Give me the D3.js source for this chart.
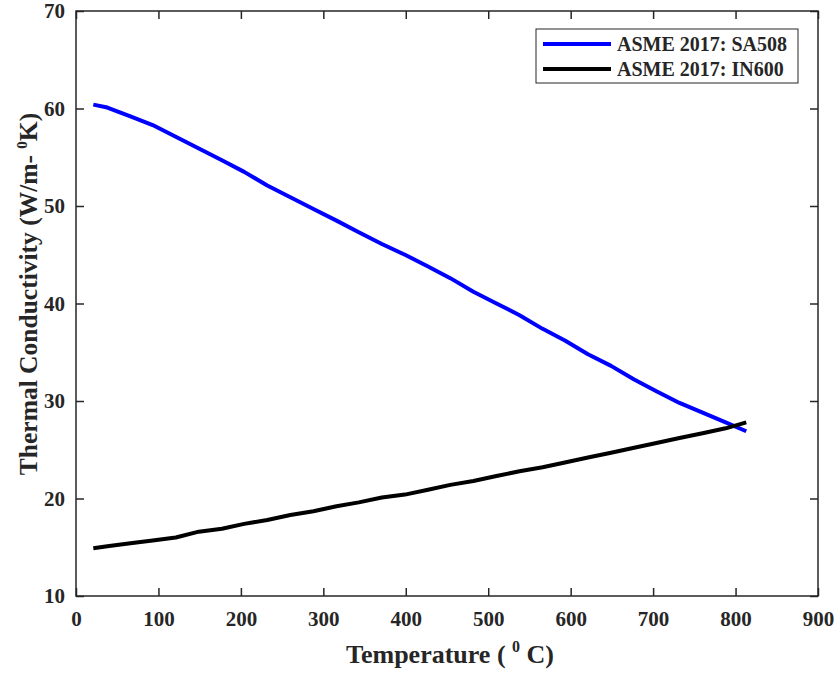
<!DOCTYPE html>
<html>
<head>
<meta charset="utf-8">
<script src="https://cdn.jsdelivr.net/npm/d3@7"></script>
<style>
  body { margin: 0; background: #fff; }
  text { font-family: "Liberation Serif", "Times New Roman", serif; font-weight: bold; fill: #262626; }
</style>
</head>
<body>
<div id="chart"></div>
<script>
// temperatures (deg C, converted from the ASME deg F table)
var temps = [21, 38, 66, 93, 121, 149, 177, 204, 232, 260, 288, 316, 343, 371, 399,
             427, 454, 482, 510, 538, 566, 593, 621, 649, 677, 704, 732, 760, 788, 813];
var sa508 = [60.4, 60.1, 59.2, 58.3, 57.1, 55.9, 54.7, 53.5, 52.1, 50.9, 49.7, 48.5, 47.3, 46.1, 45.0,
             43.8, 42.6, 41.2, 40.0, 38.8, 37.4, 36.2, 34.8, 33.6, 32.2, 31.0, 29.8, 28.8, 27.8, 26.9];
var in600 = [14.9, 15.1, 15.4, 15.7, 16.0, 16.6, 16.9, 17.4, 17.8, 18.3, 18.7, 19.2, 19.6, 20.1, 20.4,
             20.9, 21.4, 21.8, 22.3, 22.8, 23.2, 23.7, 24.2, 24.7, 25.2, 25.7, 26.2, 26.7, 27.2, 27.8];
var xTicks = [0, 100, 200, 300, 400, 500, 600, 700, 800, 900];
var yTicks = [10, 20, 30, 40, 50, 60, 70];
var seriesNames = ["ASME 2017: SA508", "ASME 2017: IN600"];
var seriesColors = ["#0000ff", "#000000"];

var svgWidth = 836, svgHeight = 674;
var margin = { top: 11, right: 18, bottom: 78, left: 76 };
var width = svgWidth - margin.left - margin.right;
var height = svgHeight - margin.top - margin.bottom;

var svg = d3.select("#chart").append("svg")
  .attr("width", svgWidth)
  .attr("height", svgHeight);

var g = svg.append("g")
  .attr("transform", `translate(${margin.left}, ${margin.top})`);

var x = d3.scaleLinear().domain([0, 900]).range([0, width]);
var y = d3.scaleLinear().domain([10, 70]).range([height, 0]);

// axes with inward ticks, mirrored on top/right
var axisColor = "#262626";
function styleAxis(sel) {
  sel.select(".domain").remove();
  sel.selectAll(".tick line").attr("stroke", axisColor).attr("stroke-width", 1.5);
  sel.selectAll("text").style("font-size", "21px").attr("fill", axisColor);
}

g.append("g").attr("transform", `translate(0, ${height})`)
  .call(d3.axisBottom(x).tickValues(xTicks).tickSizeInner(-8).tickPadding(15))
  .call(styleAxis);
g.append("g")
  .call(d3.axisTop(x).tickValues(xTicks).tickSizeInner(-8).tickFormat(""))
  .call(styleAxis);
g.append("g")
  .call(d3.axisLeft(y).tickValues(yTicks).tickSizeInner(-8).tickPadding(11))
  .call(styleAxis);
g.append("g").attr("transform", `translate(${width}, 0)`)
  .call(d3.axisRight(y).tickValues(yTicks).tickSizeInner(-8).tickFormat(""))
  .call(styleAxis);

g.append("rect")
  .attr("width", width).attr("height", height)
  .attr("fill", "none").attr("stroke", axisColor).attr("stroke-width", 1.5);

// lines
var line = d3.line()
  .x((d, i) => x(temps[i]))
  .y(d => y(d));

[sa508, in600].forEach(function(vals, k) {
  g.append("path")
    .datum(vals)
    .attr("fill", "none")
    .attr("stroke", seriesColors[k])
    .attr("stroke-width", 4)
    .attr("stroke-linejoin", "round")
    .attr("d", line);
});

// legend
var legend = svg.append("g").attr("transform", "translate(536, 29)");
legend.append("rect")
  .attr("width", 262).attr("height", 54)
  .attr("fill", "#fff").attr("stroke", axisColor).attr("stroke-width", 1);
seriesNames.forEach(function(name, k) {
  var ly = 15 + k * 25;
  legend.append("line")
    .attr("x1", 7).attr("x2", 75).attr("y1", ly).attr("y2", ly)
    .attr("stroke", seriesColors[k]).attr("stroke-width", 4);
  legend.append("text")
    .attr("x", 81).attr("y", ly + 7)
    .style("font-size", "20px").attr("fill", "#000")
    .text(name);
});

// axis titles
var xTitle = svg.append("text")
  .attr("x", margin.left + width / 2 + 3).attr("y", 663)
  .attr("text-anchor", "middle")
  .style("font-size", "26px");
xTitle.append("tspan").text("Temperature ( ");
xTitle.append("tspan").attr("dy", -11).style("font-size", "16px").text("0");
xTitle.append("tspan").attr("dy", 11).text(" C)");

var yTitle = svg.append("text")
  .attr("transform", "translate(37, 294) rotate(-90)")
  .attr("text-anchor", "middle")
  .style("font-size", "25.5px");
yTitle.append("tspan").text("Thermal Conductivity (W/m- ");
yTitle.append("tspan").attr("dy", -10).style("font-size", "15px").text("0");
yTitle.append("tspan").attr("dy", 10).text("K)");
</script>
</body>
</html>
